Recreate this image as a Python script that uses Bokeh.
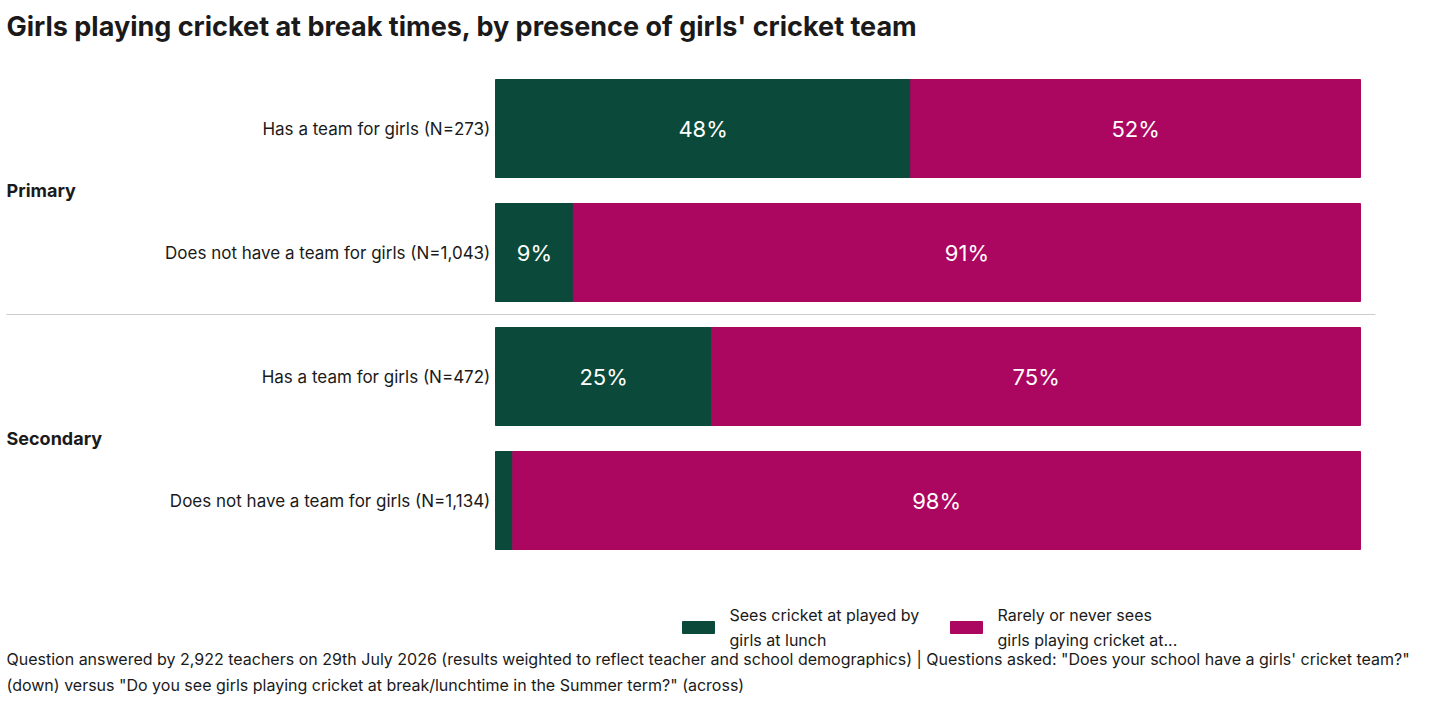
from bokeh.plotting import figure
from bokeh.models import Range1d, ColumnDataSource
from bokeh.core.properties import value
from bokeh.embed import file_html
from bokeh.resources import INLINE

groups = ["Primary", "Primary", "Secondary", "Secondary"]
rows = ["Has a team for girls (N=273)", "Does not have a team for girls (N=1,043)",
        "Has a team for girls (N=472)", "Does not have a team for girls (N=1,134)"]
sees = [48, 9, 25, 2]
rarely = [52, 91, 75, 98]
series_names = ["Sees cricket at played by\ngirls at lunch", "Rarely or never sees\ngirls playing cricket at..."]
colors = ["#0b4a3a", "#ab0660"]
title = "Girls playing cricket at break times, by presence of girls' cricket team"
footnote = ("Question answered by 2,922 teachers on 29th July 2026 (results weighted to reflect teacher and school demographics) | Questions asked: \"Does your school have a girls' cricket team?\"\n"
            "(down) versus \"Do you see girls playing cricket at break/lunchtime in the Summer term?\" (across)")

W, H = 1424, 704
ppu = 8.65
x0 = -495 / ppu
p = figure(width=W, height=H, output_backend="svg", toolbar_location=None,
           x_range=Range1d(x0, x0 + W / ppu), y_range=Range1d(H, 0),
           min_border=0, outline_line_color=None)
p.axis.visible = False
p.grid.visible = False
FONT = value("Inter")
TC = "#1a1a1a"

ys = [128 + 124 * i for i in range(4)]
src = ColumnDataSource(dict(y=ys, sees=sees, rarely=rarely, total=[a + b for a, b in zip(sees, rarely)],
                            row=rows,
                            mid1=[s / 2 for s in sees], mid2=[s + r / 2 for s, r in zip(sees, rarely)],
                            l1=[f"{s}%" if s >= 5 else "" for s in sees], l2=[f"{r}%" for r in rarely]))
p.hbar(y="y", left=0, right="sees", height=98, color=colors[0], source=src)
p.hbar(y="y", left="sees", right="total", height=98, color=colors[1], source=src)
p.text(x="mid1", y="y", text="l1", source=src, text_color="white", text_font=FONT,
       text_font_size="22px", text_align="center", text_baseline="middle")
p.text(x="mid2", y="y", text="l2", source=src, text_color="white", text_font=FONT,
       text_font_size="22px", text_align="center", text_baseline="middle")
p.text(x=-0.6, y="y", text="row", source=src, text_color=TC, text_font=FONT,
       text_font_size="17px", text_align="right", text_baseline="middle")

gx = x0 + 6 / ppu
gnames = ["Primary", "Secondary"]
p.text(x=[gx, gx], y=[(ys[0] + ys[1]) / 2, (ys[2] + ys[3]) / 2], text=gnames, text_color=TC,
       text_font=FONT, text_font_size="18px", text_font_style="bold", text_baseline="middle")
p.segment(x0=[gx], x1=[x0 + 1375 / ppu], y0=[(ys[1] + ys[2]) / 2], y1=[(ys[1] + ys[2]) / 2],
          line_color="#cccccc", line_width=1)

p.text(x=[gx], y=[26], text=[title], text_color=TC, text_font=FONT, text_font_size="27px",
       text_font_style="bold", text_baseline="middle")

# legend
lx = [x0 + 682 / ppu, x0 + 950 / ppu]
p.rect(x=[v + 16 / ppu for v in lx], y=[627, 627], width=32 / ppu, height=12, color=colors)
p.text(x=[v + 47 / ppu for v in lx], y=[627, 627], text=series_names, text_color=TC,
       text_font=FONT, text_font_size="16px", text_baseline="middle", text_line_height=1.25)

p.text(x=[gx], y=[671], text=[footnote], text_color=TC, text_font=FONT, text_font_size="16px",
       text_baseline="middle", text_line_height=1.3)

open("out.html", "w").write(file_html(p, INLINE))
